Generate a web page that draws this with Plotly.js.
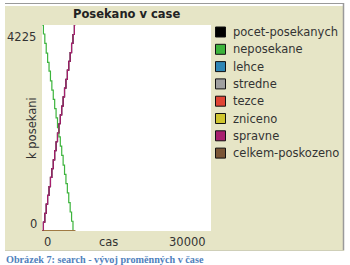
<!DOCTYPE html>
<html>
<head>
<meta charset="utf-8">
<script src="https://cdn.plot.ly/plotly-3.0.1.min.js"></script>
<style>html,body{margin:0;padding:0;background:#fff;}#chart{width:350px;height:265px;}</style>
</head>
<body>
<div id="chart"></div>
<script>
// ---- data ----
var seriesNames = ["pocet-posekanych","neposekane","lehce","stredne","tezce","zniceno","spravne","celkem-poskozeno"];
var seriesColors = ["#000000","#3cb43c","#2e86b5","#a0a0a0","#e04535","#cfc52f","#a8206e","#7a5535"];
var timeGreen = [0,250,500,750,1000,1250,1500,1750,2000,2250,2500,2750,3000,3250,3500,3750,4000,4250,4500,4750,5000,5250,5500];
var neposekane = [4225,4040,3850,3650,3460,3280,3080,2890,2700,2510,2320,2120,1930,1740,1550,1350,1160,970,780,580,390,200,0];
var timeDone = [0,250,500,750,1000,1250,1500,1750,2000,2250,2500,2750,3000,3250,3500,3750,4000,4250,4500,4750,5000,5250,5500,5750,5900];
var spravne = [0,180,360,550,730,910,1100,1280,1460,1650,1830,2010,2200,2380,2560,2750,2930,3110,3300,3480,3660,3850,4030,4225,4225];
var pocetPosekanych = [0,180,360,550,730,910,1100,1280,1460,1650,1830,2010,2200,2380,2560,2750,2930,3110,3300,3480,3660,3850,4030,4225,4225];
var timeDamage = [0,5900];
var lehce = [0,0];
var stredne = [0,0];
var tezce = [0,0];
var zniceno = [0,0];
var celkemPoskozeno = [0,0];
var xRange = [0,30000];
var yRange = [0,4225];
var xTickLabels = ["0","30000"];
var yTickLabels = ["0","4225"];

// ---- layout geometry ----
var W=350,H=265,L=42,R=211,T=25,B=231;
function px(x){return (x-L)/(R-L);}
function py(y){return (B-y)/(B-T);}
var font = "DejaVu Sans, sans-serif";
var txt = "#333333";

var seriesData = [
  [timeDone,pocetPosekanych],[timeGreen,neposekane],[timeDamage,lehce],[timeDamage,stredne],
  [timeDamage,tezce],[timeDamage,zniceno],[timeDone,spravne],[timeDamage,celkemPoskozeno]
];
var traces = seriesData.map(function(d,i){
  return {x:d[0],y:d[1],type:"scatter",mode:"lines",name:seriesNames[i],
    line:{color:seriesColors[i],width:1.2,shape:"hv"},showlegend:false,hoverinfo:"skip",cliponaxis:false};
});

var shapes = [
  {type:"rect",xref:"paper",yref:"paper",x0:px(5),x1:px(343),y0:py(250),y1:py(6),fillcolor:"#e6e5c6",line:{width:0},layer:"below"},
  {type:"rect",xref:"paper",yref:"paper",x0:0,x1:1,y0:0,y1:1,fillcolor:"#ffffff",line:{width:0},layer:"below"},
  {type:"line",xref:"paper",yref:"paper",x0:px(5),x1:px(344),y0:py(3.5),y1:py(3.5),line:{color:"#9a9a9a",width:1.2}},
  {type:"line",xref:"paper",yref:"paper",x0:px(343.5),x1:px(343.5),y0:py(3),y1:py(250.5),line:{color:"#9a9a9a",width:1.5}},
  {type:"line",xref:"paper",yref:"paper",x0:px(5),x1:px(344),y0:py(250.5),y1:py(250.5),line:{color:"#cfcfb8",width:1}}
];
var annotations = [
  {text:"<b>Posekano v case</b>",xref:"paper",yref:"paper",x:0.5,y:py(14.5),xanchor:"center",yanchor:"middle",showarrow:false,font:{family:font,size:11.5,color:"#222"}},
  {text:"k posekani",xref:"paper",yref:"paper",x:px(32),y:py(128),textangle:-90,xanchor:"center",yanchor:"middle",showarrow:false,font:{family:font,size:11.5,color:txt}},
  {text:"cas",xref:"paper",yref:"paper",x:px(108),y:py(241.5),xanchor:"center",yanchor:"middle",showarrow:false,font:{family:font,size:11.5,color:txt}},
  {text:xTickLabels[0],xref:"x",yref:"paper",x:xRange[0],y:py(241.5),xanchor:"left",yanchor:"middle",xshift:0,showarrow:false,font:{family:font,size:11.5,color:txt}},
  {text:xTickLabels[1],xref:"x",yref:"paper",x:xRange[1],y:py(241.5),xanchor:"right",yanchor:"middle",xshift:-3,showarrow:false,font:{family:font,size:11.5,color:txt}},
  {text:yTickLabels[1],xref:"paper",yref:"y",x:0,y:yRange[1],xanchor:"right",yanchor:"middle",xshift:-4,yshift:-12,showarrow:false,font:{family:font,size:11.5,color:txt}},
  {text:yTickLabels[0],xref:"paper",yref:"y",x:0,y:yRange[0],xanchor:"right",yanchor:"middle",xshift:-3,yshift:7,showarrow:false,font:{family:font,size:11.5,color:txt}},
  {text:"<b>Obrázek 7: search - vývoj proměnných v čase</b>",xref:"paper",yref:"paper",x:px(4),y:py(259),xanchor:"left",yanchor:"middle",showarrow:false,font:{family:"Liberation Serif, serif",size:10.2,color:"#4f81bd"}}
];
// legend built from names/colors
var legTop=32, legStep=17.3;
seriesNames.forEach(function(n,i){
  var cy = legTop + i*legStep;
  shapes.push({type:"rect",xref:"paper",yref:"paper",x0:px(215.5),x1:px(225.5),y0:py(cy+5),y1:py(cy-5),fillcolor:seriesColors[i],line:{color:"#111",width:1}});
  annotations.push({text:n,xref:"paper",yref:"paper",x:px(231),y:py(cy),xanchor:"left",yanchor:"middle",showarrow:false,font:{family:font,size:11.5,color:txt}});
});

var layout = {
  width:W,height:H,
  margin:{l:L,r:W-R,t:T,b:H-B,pad:0},
  paper_bgcolor:"#ffffff",plot_bgcolor:"rgba(0,0,0,0)",
  showlegend:false,
  xaxis:{range:xRange,showgrid:false,zeroline:false,showline:false,showticklabels:false,ticks:"",fixedrange:true},
  yaxis:{range:yRange,showgrid:false,zeroline:false,showline:false,showticklabels:false,ticks:"",fixedrange:true},
  shapes:shapes,annotations:annotations
};
Plotly.newPlot("chart",traces,layout,{staticPlot:true,displayModeBar:false});
</script>
</body>
</html>
